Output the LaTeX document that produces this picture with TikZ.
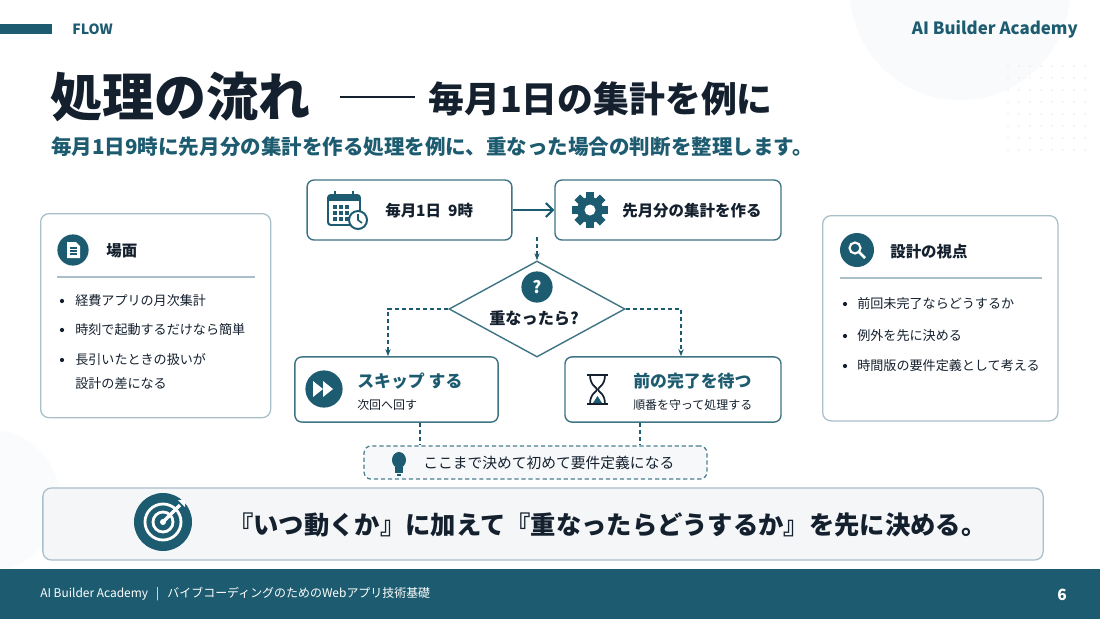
\documentclass[tikz,border=0pt]{standalone}
\usepackage{fontspec}
\setmainfont{Noto Sans CJK JP}
\usetikzlibrary{positioning,shapes.geometric,arrows.meta}
\definecolor{teal}{HTML}{1D5C70}
\definecolor{navy}{HTML}{14202E}
\definecolor{edge}{HTML}{A9C0CB}
\definecolor{pale}{HTML}{F1F4F6}
\tikzset{
  card/.style={draw=edge,line width=0.9pt,rounded corners=6pt,fill=white,inner sep=0pt},
  flow/.style={draw=teal!85,line width=1pt,rounded corners=5pt,fill=white,inner sep=0pt},
  link/.style={teal,line width=0.9pt,dashed,dash pattern=on 3pt off 2pt,-{Stealth[length=5pt]}},
  lbl/.style={anchor=west,inner sep=0pt,font=\bfseries\fontsize{11}{13}\selectfont,text=navy},
  sub/.style={anchor=west,inner sep=0pt,font=\fontsize{8.5}{10}\selectfont,text=navy},
  item/.style={anchor=west,inner sep=0pt,font=\fontsize{9.3}{11}\selectfont,text=navy},
  dot/.style={circle,fill=navy,inner sep=0pt,minimum size=3pt},
  badge/.style={circle,fill=teal,inner sep=0pt}
}
\begin{document}
\begin{tikzpicture}[x=0.025cm,y=-0.025cm]
\useasboundingbox (0,0) rectangle (1100,619);
\fill[white] (0,0) rectangle (1100,619);
% background decoration
\fill[pale!45] (960,-10) circle (110);
\fill[pale!35] (-10,500) circle (70);
\foreach \i in {0,...,7}
  \foreach \j in {0,...,7}
    \fill[edge!60] (1008+\i*11,66+\j*12) circle (0.6);
% header
\fill[teal] (0,24) rectangle (52,34);
\node[anchor=west,inner sep=0pt,text=teal,font=\bfseries\fontsize{10}{12}\selectfont] (flow) at (72,29) {FLOW};
\node[anchor=east,inner sep=0pt,text=teal,font=\bfseries\fontsize{12}{14}\selectfont] (brand) at (1078,29) {AI Builder Academy};
\node[anchor=west,inner sep=0pt,text=navy,font=\bfseries\fontsize{37}{40}\selectfont] (title) at (50,97) {処理の流れ};
\draw[navy,line width=1.6pt] (340,97) -- (415,97);
\node[anchor=west,inner sep=0pt,text=navy,font=\bfseries\fontsize{25.5}{28}\selectfont] (title2) at (428,99) {毎月1日の集計を例に};
\node[anchor=west,inner sep=0pt,text=teal,font=\bfseries\fontsize{14.6}{17}\selectfont] (lead) at (51,147) {毎月1日9時に先月分の集計を作る処理を例に、重なった場合の判断を整理します。};

% left card
\node[card,minimum width=5.75cm,minimum height=5.1cm,anchor=north west] (scene) at (40,213) {};
\node[badge,minimum size=0.78cm] (sceneicon) at (73,250) {};
\fill[white] (67,242) -- (76,242) -- (80,246) -- (80,258) -- (67,258) -- cycle;
\foreach \y in {248,251,254} \draw[teal,line width=0.8pt] (70,\y) -- (77,\y);
\node[lbl] (scenehd) at (106,251) {場面};
\draw[edge,line width=0.8pt] (57,277) -- (255,277);
\foreach \y/\t in {301/経費アプリの月次集計,330/時刻で起動するだけなら簡単,360/長引いたときの扱いが}{
  \node[dot] at (62,\y) {};
  \node[item] at (75,\y) {\t};}
\node[item] (sceneb) at (75,384) {設計の差になる};

% right card
\node[card,minimum width=5.88cm,minimum height=5.13cm,anchor=north west] (view) at (822,215) {};
\node[badge,minimum size=0.85cm] (viewicon) at (857,250) {};
\draw[white,line width=1.5pt] (855,248) circle (5.5);
\draw[white,line width=2pt] (859,252) -- (865,258);
\node[lbl] (viewhd) at (890,252) {設計の視点};
\draw[edge,line width=0.8pt] (840,278) -- (1042,278);
\foreach \y/\t in {304/前回未完了ならどうするか,336/例外を先に決める,366/時間版の要件定義として考える}{
  \node[dot] at (845,\y) {};
  \node[item] at (857,\y) {\t};}

% flow boxes
\node[flow,minimum width=5.12cm,minimum height=1.5cm] (start) at (409.5,210) {};
\node[flow,minimum width=5.65cm,minimum height=1.5cm] (make) at (668,210) {};
\node[flow,minimum width=5.08cm,minimum height=1.63cm] (skip) at (396.5,389.5) {};
\node[flow,minimum width=5.4cm,minimum height=1.63cm] (wait) at (673,389.5) {};
\node[draw=teal!85,line width=1pt,diamond,aspect=1.85,minimum width=4.4cm,minimum height=2.4cm,fill=white,inner sep=0pt] (dec) at (537,309) {};
\node[draw=teal!80,line width=0.9pt,dashed,dash pattern=on 3pt off 2pt,rounded corners=5pt,fill=pale!60,minimum width=8.57cm,minimum height=0.83cm] (rule) at (535.5,462.5) {};

% icons
\draw[teal,line width=1.4pt,rounded corners=2pt] (328,195) rectangle (360,225);
\fill[teal] (328,195) rectangle (360,201);
\draw[teal,line width=1.4pt] (335,191) -- (335,197) (353,191) -- (353,197);
\foreach \i in {0,1,2} \foreach \j in {0,1,2} \fill[teal] (333+\i*6,205+\j*6) rectangle +(3.5,3.5);
\draw[teal,line width=1.4pt,fill=white] (358,220) circle (9);
\draw[teal,line width=1.2pt] (358,214) -- (358,220) -- (362,223);
\foreach \a in {0,45,...,315} \fill[teal,rotate around={\a:(590,210)}] (586,192) rectangle (594,200);
\fill[teal] (590,210) circle (13);
\fill[white] (590,210) circle (5.5);
\node[badge,minimum size=0.78cm] (qicon) at (537,287) {};
\node[text=white,font=\bfseries\fontsize{12}{12}\selectfont] at (qicon) {?};
\node[badge,minimum size=0.93cm] (fficon) at (324,389) {};
\fill[white] (313,381) -- (323,389) -- (313,397) -- cycle (323,381) -- (333,389) -- (323,397) -- cycle;
\draw[navy,line width=1.6pt] (587,375) -- (608,375) (587,404) -- (608,404);
\draw[navy,line width=1.2pt] (590,375) .. controls (590,386) and (597,387) .. (597,389.5) .. controls (597,392) and (590,393) .. (590,404);
\draw[navy,line width=1.2pt] (605,375) .. controls (605,386) and (598,387) .. (598,389.5) .. controls (598,392) and (605,393) .. (605,404);
\fill[teal] (597.5,396) -- (593,403) -- (602,403) -- cycle;
\fill[teal] (399,460) ellipse (7 and 8);
\fill[teal] (395,467) rectangle (403,473);
\fill[teal] (397,474) rectangle (401,476);

% texts
\node[lbl,font=\bfseries\fontsize{11}{13}\selectfont] (starttx) at (385,211) {毎月1日\ \ 9時};
\node[lbl] (maketx) at (622,211) {先月分の集計を作る};
\node[lbl,font=\bfseries\fontsize{11.5}{13}\selectfont] (dectx) at (489,318) {重なったら?};
\node[lbl,text=teal,font=\bfseries\fontsize{12}{14}\selectfont] (skiptx) at (357,381) {スキップ する};
\node[sub] (skipsub) at (357,405) {次回へ回す};
\node[lbl,text=teal,font=\bfseries\fontsize{12}{14}\selectfont] (waittx) at (633,381) {前の完了を待つ};
\node[sub] (waitsub) at (633,405) {順番を守って処理する};
\node[lbl,font=\fontsize{10.5}{12}\selectfont] (ruletx) at (423,463) {ここまで決めて初めて要件定義になる};

% connectors
\draw[teal,line width=1.4pt,-{Straight Barb[length=5pt]}] (start) -- (make);
\coordinate (split) at (537,237);
\draw[link] (split) -- (dec.north);
\draw[link] (dec.west) -| (skip.north -| 388,0);
\draw[link] (dec.east) -| (wait.north -| 681,0);
\draw[teal,line width=0.8pt,dashed,dash pattern=on 3pt off 2pt] (skip.south -| 420,0) -- (rule.north -| 420,0);
\draw[teal,line width=0.8pt,dashed,dash pattern=on 3pt off 2pt] (wait.south -| 640,0) -- (rule.north -| 640,0);

% conclusion banner
\node[draw=edge,line width=0.9pt,rounded corners=6pt,fill=pale!80,minimum width=25cm,minimum height=1.8cm] (goal) at (543,524) {};
\node[badge,minimum size=1.45cm] (goalicon) at (163,522) {};
\draw[white,line width=2pt] (163,522) circle (18) (163,522) circle (10);
\fill[white] (163,522) circle (3);
\draw[white,line width=2.5pt] (163,522) -- (180,505);
\fill[white] (178,500) -- (185,500) -- (185,507) -- cycle;
\node[lbl,font=\bfseries\fontsize{18}{21}\selectfont] (goaltx) at (228,525) {『いつ動くか』に加えて『重なったらどうするか』を先に決める。};

% footer
\fill[teal] (0,569) rectangle (1100,619);
\node[anchor=west,inner sep=0pt,text=white,font=\fontsize{8.5}{10}\selectfont] (foot) at (40,594) {AI Builder Academy\ \ \ |\ \ \ バイブコーディングのためのWebアプリ技術基礎};
\node[inner sep=0pt,text=white,font=\bfseries\fontsize{11}{12}\selectfont] (page) at (1062,595) {6};
\end{tikzpicture}
\end{document}
